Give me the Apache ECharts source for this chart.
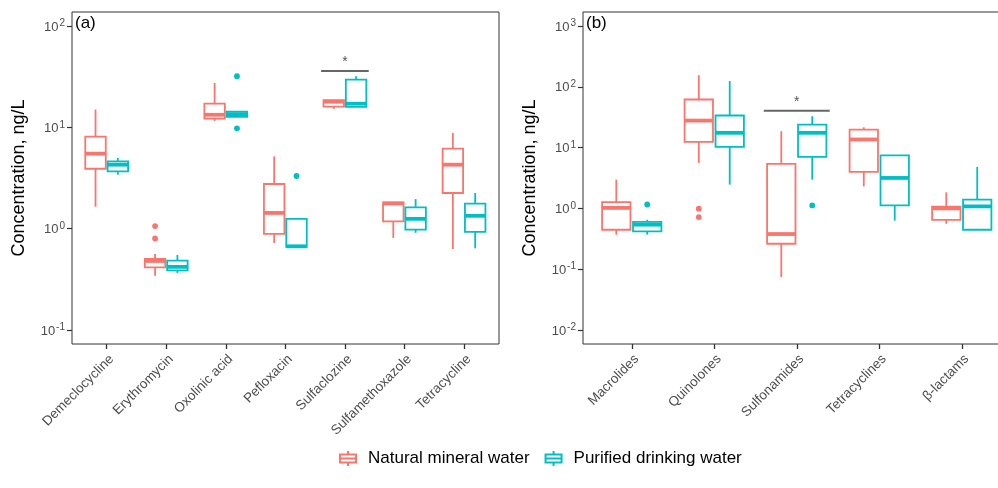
<!DOCTYPE html>
<html>
<head>
<meta charset="utf-8">
<script src="https://cdn.jsdelivr.net/npm/echarts@6/dist/echarts.min.js"></script>
<style>
html,body{margin:0;padding:0;background:#fff}
#chart{width:998px;height:488px}
</style>
</head>
<body>
<div id="chart"></div>
<script>
// ---- Panel (a): individual antibiotics ----
const drugs = ['Demeclocycline', 'Erythromycin', 'Oxolinic acid', 'Pefloxacin', 'Sulfaclozine', 'Sulfamethoxazole', 'Tetracycline'];
// five-number summaries [min, Q1, median, Q3, max] in ng/L
const drugMineral = [
  [1.65, 3.9, 5.5, 8.1, 15.0],
  [0.343, 0.415, 0.48, 0.502, 0.563],
  [11.5, 12.2, 13.3, 17.1, 27.4],
  [0.722, 0.887, 1.43, 2.76, 5.17],
  [15.2, 16.0, 17.9, 18.5, 18.6],
  [0.81, 1.18, 1.77, 1.82, 1.82],
  [0.63, 2.25, 4.28, 6.16, 8.8]
];
const drugPurified = [
  [3.41, 3.68, 4.28, 4.62, 4.99],
  [0.365, 0.388, 0.42, 0.483, 0.55],
  [12.6, 12.7, 13.5, 14.3, 14.4],
  [0.66, 0.66, 0.67, 1.25, 1.25],
  [15.9, 15.9, 17.1, 29.6, 31.9],
  [0.91, 0.98, 1.25, 1.62, 1.96],
  [0.64, 0.93, 1.34, 1.77, 2.25]
];
// outliers [category index, ng/L]
const drugMineralOut = [[1, 1.06], [1, 0.80]];
const drugPurifiedOut = [[2, 31.9], [2, 9.78], [3, 3.31]];
// significance marks [category index, bar height ng/L]
const drugSig = [[4, 36]];
const drugExponents = [-1, 0, 1, 2];

// ---- Panel (b): antibiotic classes ----
const classes = ['Macrolides', 'Quinolones', 'Sulfonamides', 'Tetracyclines', 'β-lactams'];
const classMineral = [
  [0.369, 0.446, 1.02, 1.27, 2.97],
  [5.6, 12.4, 27.8, 61.8, 155],
  [0.074, 0.262, 0.379, 5.39, 18.6],
  [2.30, 3.98, 13.6, 19.8, 21.6],
  [0.56, 0.65, 1.0, 1.07, 1.84]
];
const classPurified = [
  [0.37, 0.42, 0.54, 0.60, 0.65],
  [2.46, 10.3, 17.5, 33.7, 124],
  [2.97, 7.03, 17.5, 23.9, 32.8],
  [0.63, 1.12, 3.17, 7.47, 7.47],
  [0.44, 0.446, 1.08, 1.39, 4.81]
];
const classMineralOut = [[1, 0.99], [1, 0.72]];
const classPurifiedOut = [[0, 1.16], [2, 1.12]];
const classSig = [[2, 40.2]];
const classExponents = [-2, -1, 0, 1, 2, 3];

const groups = ['Natural mineral water', 'Purified drinking water'];
const RED = '#F8766D', TEAL = '#00BFC4';
const FONT = "'Liberation Sans', Arial, Helvetica, sans-serif";

// values are plotted on a log10 scale
const toRows = stats => stats.map((s, i) => [i].concat(s.map(v => Math.log10(v))));
const toPts = pts => pts.map(p => [p[0], Math.log10(p[1])]);

const DODGE = 0.1875;   // box centre offset, fraction of category band
const HALF = 0.172;     // half box width, fraction of band
const LW = 1.8;

function boxRenderer(side, color) {
  return function (params, api) {
    const cat = api.value(0);
    const band = api.size([1, 0])[0];
    const cx = api.coord([cat, api.value(3)])[0] + side * band * DODGE;
    const hw = band * HALF;
    const y = k => api.coord([cat, api.value(k)])[1];
    const yMin = y(1), yQ1 = y(2), yMed = y(3), yQ3 = y(4), yMax = y(5);
    return {
      type: 'group',
      children: [
        { type: 'line', shape: { x1: cx, y1: yQ3, x2: cx, y2: yMax }, style: { stroke: color, lineWidth: LW } },
        { type: 'line', shape: { x1: cx, y1: yQ1, x2: cx, y2: yMin }, style: { stroke: color, lineWidth: LW } },
        { type: 'rect', shape: { x: cx - hw, y: yQ3, width: 2 * hw, height: yQ1 - yQ3 }, style: { fill: '#fff', stroke: color, lineWidth: LW } },
        { type: 'line', shape: { x1: cx - hw, y1: yMed, x2: cx + hw, y2: yMed }, style: { stroke: color, lineWidth: LW * 2.1 } }
      ]
    };
  };
}

function outlierRenderer(side, color) {
  return function (params, api) {
    const band = api.size([1, 0])[0];
    const p = api.coord([api.value(0), api.value(1)]);
    return { type: 'circle', shape: { cx: p[0] + side * band * DODGE, cy: p[1], r: 2.9 }, style: { fill: color } };
  };
}

function sigRenderer(params, api) {
  const band = api.size([1, 0])[0];
  const p = api.coord([api.value(0), api.value(1)]);
  return {
    type: 'group',
    children: [
      { type: 'line', shape: { x1: p[0] - band * 0.4, y1: p[1], x2: p[0] + band * 0.4, y2: p[1] }, style: { stroke: '#666', lineWidth: 2 } },
      { type: 'text', x: p[0], y: p[1] - 2, style: { text: '*', fill: '#555', font: '14px ' + FONT, align: 'center', verticalAlign: 'bottom' } }
    ]
  };
}

function panelSeries(axisIdx, mineral, purified, mineralOut, purifiedOut, sig) {
  const base = { type: 'custom', xAxisIndex: axisIdx, yAxisIndex: axisIdx, silent: true };
  return [
    Object.assign({}, base, { name: groups[0], renderItem: boxRenderer(-1, RED), encode: { x: 0, y: [1, 2, 3, 4, 5] }, data: toRows(mineral), itemStyle: { color: RED } }),
    Object.assign({}, base, { name: groups[1], renderItem: boxRenderer(1, TEAL), encode: { x: 0, y: [1, 2, 3, 4, 5] }, data: toRows(purified), itemStyle: { color: TEAL } }),
    Object.assign({}, base, { name: groups[0], renderItem: outlierRenderer(-1, RED), encode: { x: 0, y: 1 }, data: toPts(mineralOut), itemStyle: { color: RED } }),
    Object.assign({}, base, { name: groups[1], renderItem: outlierRenderer(1, TEAL), encode: { x: 0, y: 1 }, data: toPts(purifiedOut), itemStyle: { color: TEAL } }),
    Object.assign({}, base, { name: 'significance', renderItem: sigRenderer, encode: { x: 0, y: 1 }, data: toPts(sig) })
  ];
}

const tickLabel = {
  formatter: v => '{b|10}{s|' + v + '}',
  margin: 7,
  rich: {
    b: { fontSize: 13, color: '#4d4d4d', fontFamily: FONT, verticalAlign: 'bottom', lineHeight: 15 },
    s: { fontSize: 10, color: '#4d4d4d', fontFamily: FONT, verticalAlign: 'bottom', lineHeight: 11, padding: [0, 0, 5, 1] }
  }
};

function frameYAxis(grid, lo, hi, exps) {
  return {
    type: 'value', gridIndex: grid, min: lo, max: hi,
    axisLine: { show: false }, splitLine: { show: false },
    axisTick: { show: true, length: 5, customValues: exps, lineStyle: { color: '#333', width: 1.2 } },
    axisLabel: Object.assign({ customValues: exps }, tickLabel),
    name: 'Concentration, ng/L', nameLocation: 'middle', nameGap: 44,
    nameTextStyle: { fontSize: 18, color: '#000', fontFamily: FONT }
  };
}

function catXAxis(grid, cats) {
  return {
    type: 'category', gridIndex: grid, data: cats,
    axisLine: { show: false, onZero: false }, splitLine: { show: false },
    axisTick: { show: true, alignWithLabel: true, length: 5, lineStyle: { color: '#333', width: 1.3 } },
    axisLabel: { rotate: 45, interval: 0, margin: 8, fontSize: 13.5, color: '#4d4d4d', fontFamily: FONT, align: 'right', verticalAlign: 'top' }
  };
}

// log10 extents of the two panels
const A_LO = -1.138, A_HI = 2.138;
const B_LO = -2.23, B_HI = 3.23;

const frameGrid = { top: 12, height: 332, show: true, borderColor: '#333', borderWidth: 1, backgroundColor: 'transparent', outerBoundsMode: 'none', containLabel: false };
const dataGrid = { top: 12, height: 332, outerBoundsMode: 'none', containLabel: false };

const chart = echarts.init(document.getElementById('chart'), null, { renderer: 'canvas' });
chart.setOption({
  animation: false,
  backgroundColor: '#fff',
  textStyle: { fontFamily: FONT },
  title: [
    { text: '(a)', left: 75, top: 15, padding: 0, textStyle: { fontSize: 17, fontWeight: 'normal', color: '#000', fontFamily: FONT } },
    { text: '(b)', left: 586, top: 15, padding: 0, textStyle: { fontSize: 17, fontWeight: 'normal', color: '#000', fontFamily: FONT } }
  ],
  legend: {
    left: 334, top: 445,
    itemWidth: 18, itemHeight: 15, itemGap: 15,
    icon: 'path://M9,0 L9,3.5 M1,3.5 L17,3.5 L17,11.5 L1,11.5 Z M1,7.5 L17,7.5 M9,11.5 L9,15',
    textStyle: { fontSize: 17, color: '#000', fontFamily: FONT, padding: [0, 0, 0, 6] },
    data: [
      { name: groups[0], itemStyle: { color: '#fff', borderColor: RED, borderWidth: 2 } },
      { name: groups[1], itemStyle: { color: '#fff', borderColor: TEAL, borderWidth: 2 } }
    ]
  },
  grid: [
    Object.assign({ left: 72, width: 427 }, frameGrid),
    Object.assign({ left: 76.9, width: 416.9 }, dataGrid),
    // panel (b) runs past the right edge of the page
    Object.assign({ left: 583, right: -13.5 }, frameGrid),
    Object.assign({ left: 590.5, right: -5 }, dataGrid)
  ],
  xAxis: [
    { type: 'value', gridIndex: 0, show: false, min: 0, max: 1 },
    catXAxis(1, drugs),
    { type: 'value', gridIndex: 2, show: false, min: 0, max: 1 },
    catXAxis(3, classes)
  ],
  yAxis: [
    frameYAxis(0, A_LO, A_HI, drugExponents),
    { type: 'value', gridIndex: 1, min: A_LO, max: A_HI, show: false },
    frameYAxis(2, B_LO, B_HI, classExponents),
    { type: 'value', gridIndex: 3, min: B_LO, max: B_HI, show: false }
  ],
  series: [].concat(
    panelSeries(1, drugMineral, drugPurified, drugMineralOut, drugPurifiedOut, drugSig),
    panelSeries(3, classMineral, classPurified, classMineralOut, classPurifiedOut, classSig)
  )
});
</script>
</body>
</html>
